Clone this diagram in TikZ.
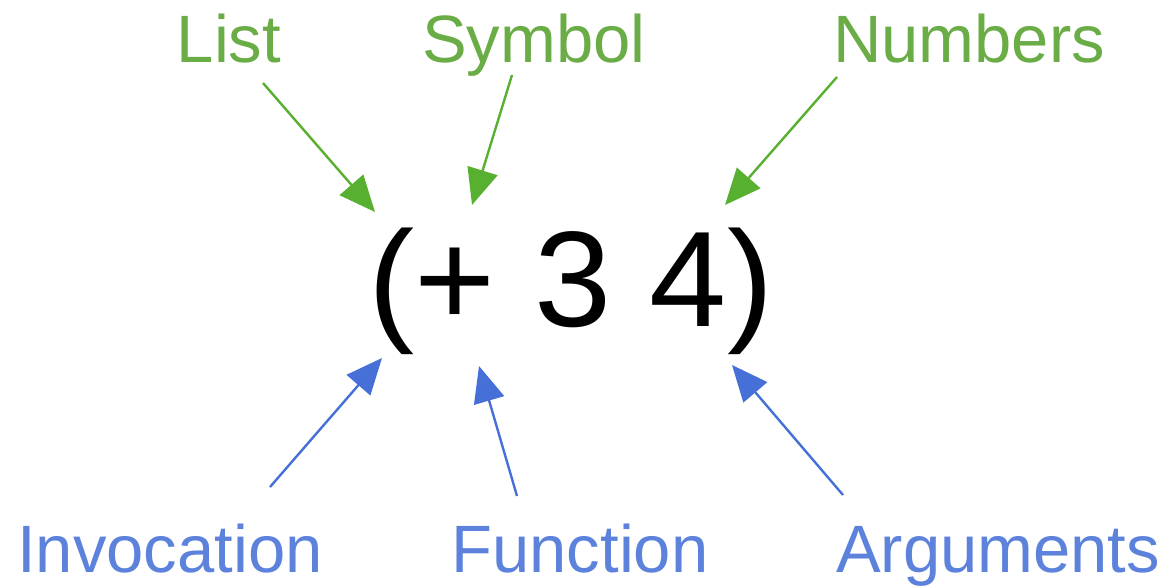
\documentclass[tikz,border=0pt]{standalone}
\usepackage{fontspec}
\setmainfont{Liberation Sans}
\usetikzlibrary{arrows.meta}
\definecolor{lblgreen}{RGB}{106,172,70}
\definecolor{arrgreen}{RGB}{88,176,48}
\definecolor{lblblue}{RGB}{92,130,220}
\definecolor{arrblue}{RGB}{70,112,216}
\tikzset{
  lbl/.style={inner sep=0pt, anchor=base, font=\fontsize{67}{67}\selectfont},
  toplbl/.style={lbl, text=lblgreen},
  botlbl/.style={lbl, text=lblblue},
  ptr/.style={line width=2.4pt, -{Triangle[length=36pt,width=31pt]}},
  greenptr/.style={ptr, draw=arrgreen!85!gray, arrgreen},
  blueptr/.style={ptr, draw=arrblue!85!gray, arrblue},
}
\begin{document}
\begin{tikzpicture}[x=1pt,y=-1pt]
  \useasboundingbox (0,0) rectangle (1167,588);
  % the expression
  \node[inner sep=0pt, anchor=base, font=\fontsize{136}{136}\selectfont,
        xscale=1.02] (expr) at (571,326) {(+ 3 4)};
  % upper labels
  \node[toplbl] (list) at (229,63) {List};
  \node[toplbl] (sym)  at (534,63) {Symbol};
  \node[toplbl] (num)  at (969,63) {Numbers};
  % lower labels
  \node[botlbl] (inv) at (170,572) {Invocation};
  \node[botlbl] (fun) at (580,572) {Function};
  \node[botlbl] (arg) at (998,572) {Arguments};
  % arrow ends
  \coordinate (listT) at (263,83);  \coordinate (listH) at (375,212);
  \coordinate (symT)  at (512,75);  \coordinate (symH)  at (472,205);
  \coordinate (numT)  at (837,77);  \coordinate (numH)  at (725,205);
  \coordinate (invT)  at (270,487); \coordinate (invH)  at (382,358);
  \coordinate (funT)  at (517,496); \coordinate (funH)  at (479,366);
  \coordinate (argT)  at (843,495); \coordinate (argH)  at (732,365);
  % arrows
  \draw[greenptr] (listT) -- (listH);
  \draw[greenptr] (symT) -- (symH);
  \draw[greenptr] (numT) -- (numH);
  \draw[blueptr] (invT) -- (invH);
  \draw[blueptr] (funT) -- (funH);
  \draw[blueptr] (argT) -- (argH);
\end{tikzpicture}
\end{document}
